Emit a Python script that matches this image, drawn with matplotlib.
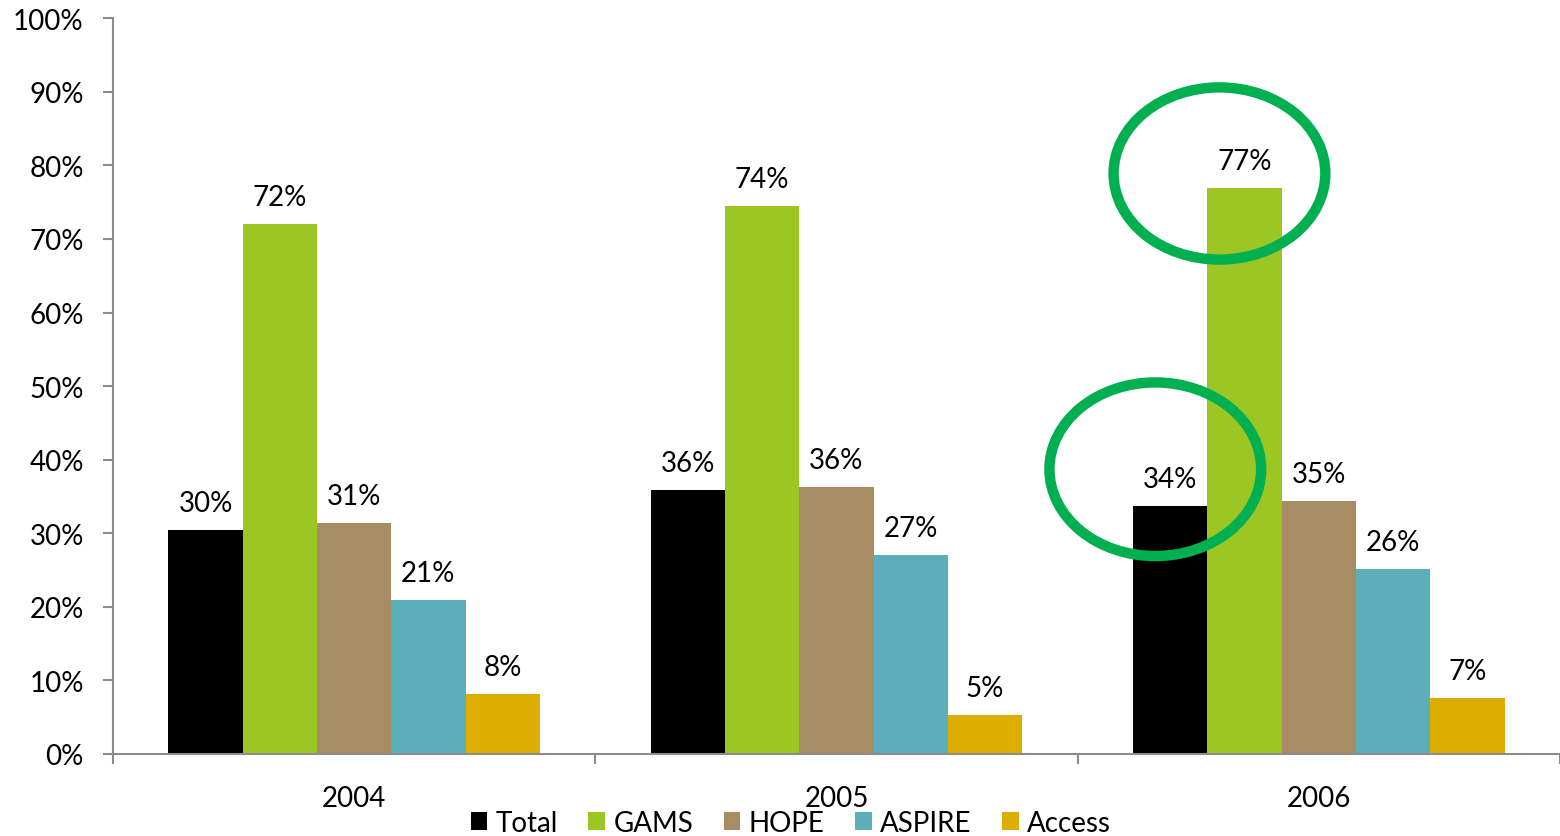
import numpy as np
import matplotlib
matplotlib.use('Agg')
import matplotlib.pyplot as plt
from matplotlib.patches import Ellipse

plt.rcParams['font.family'] = ['Lato', 'DejaVu Sans']

years = ['2004', '2005', '2006']
series = ['Total', 'GAMS', 'HOPE', 'ASPIRE', 'Access']
colors = ['#000000', '#9BC624', '#A88C63', '#5BAFB9', '#DDAE02']

# bar heights in percent, one list per series (2004, 2005, 2006)
total = [30.4, 35.9, 33.7]
gams = [72.1, 74.5, 76.9]
hope = [31.4, 36.3, 34.4]
aspire = [20.9, 27.0, 25.1]
access = [8.1, 5.3, 7.6]
values = [total, gams, hope, aspire, access]

# labels as printed on the chart
labels = [
    ['30%', '36%', '34%'],
    ['72%', '74%', '77%'],
    ['31%', '36%', '35%'],
    ['21%', '27%', '26%'],
    ['8%', '5%', '7%'],
]

fs = 20

fig = plt.figure(figsize=(15.6, 8.37), dpi=100)
ax = fig.add_axes([0.0724, 0.098, 0.9276, 0.879])

x = np.arange(len(years))
width = 0.154
for i, (name, vals) in enumerate(zip(series, values)):
    offset = (i - 2) * width
    bars = ax.bar(x + offset, vals, width, color=colors[i], label=name, zorder=2)
    ax.bar_label(bars, labels=labels[i], padding=10, fontsize=fs)

ax.set_xlim(-0.5, 2.5)
ax.set_ylim(0, 100)
ax.set_yticks(range(0, 101, 10))
ax.set_yticklabels([f'{v}%' for v in range(0, 101, 10)])
ax.set_xticks(x)
ax.set_xticklabels(years)
ax.set_xticks([-0.5, 0.5, 1.5, 2.5], minor=True)

spine_color = '#8C8C8C'
for side in ['top', 'right']:
    ax.spines[side].set_visible(False)
for side in ['left', 'bottom']:
    ax.spines[side].set_color(spine_color)
    ax.spines[side].set_linewidth(1.5)

ax.tick_params(axis='y', length=7, width=1.5, color=spine_color, labelsize=fs, pad=14)
ax.tick_params(axis='x', which='major', length=0, labelsize=fs, pad=22)
ax.tick_params(axis='x', which='minor', length=7, width=1.5, color=spine_color)

# highlight circles around 2006 values
ax.add_patch(Ellipse((1.794, 78.9), 0.439, 23.4, fill=False,
                     edgecolor='#00B050', linewidth=7.5, zorder=5, clip_on=False))
ax.add_patch(Ellipse((1.661, 38.7), 0.439, 23.6, fill=False,
                     edgecolor='#00B050', linewidth=7.5, zorder=5, clip_on=False))

fig.legend(loc='center', bbox_to_anchor=(0.507, 0.016), ncol=5,
           frameon=False, fontsize=fs, handlelength=0.6, handleheight=0.6,
           handletextpad=0.3, columnspacing=1.1)

fig.savefig('out.png', dpi=100)
